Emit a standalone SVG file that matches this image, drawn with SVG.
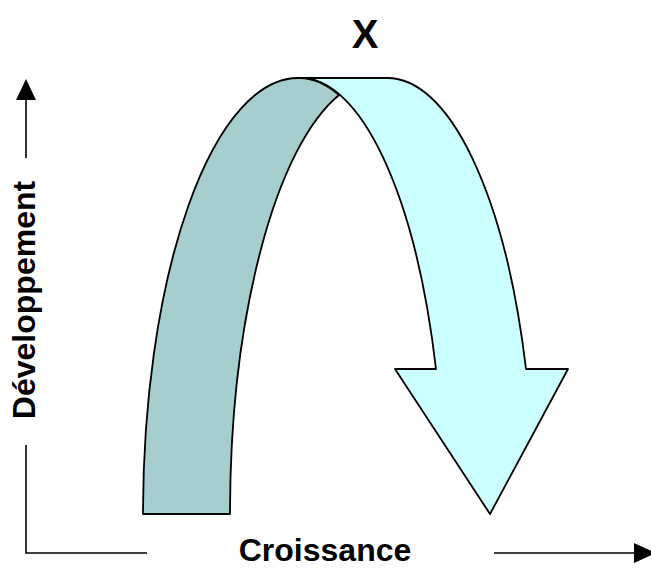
<svg xmlns="http://www.w3.org/2000/svg" width="651" height="568" viewBox="0 0 651 568">
<style>
.lbl{font-family:"Liberation Sans",Arial,sans-serif;font-weight:bold;fill:#000}
.ax{stroke:#000;stroke-width:1.6;fill:none}
.sh{stroke:#000;stroke-width:1.8;stroke-linejoin:round}
</style>
<rect width="651" height="568" fill="#fff"/>
<g id="connectors">
<line class="ax" x1="26" y1="100" x2="26" y2="158"/>
<polygon points="26,79 16,100 36,100" fill="#000"/>
<polyline class="ax" points="26,445 26,553 147,553"/>
<line class="ax" x1="494" y1="553" x2="636" y2="553"/>
<polygon points="634,543 656,553 634,563" fill="#000"/>
</g>
<g id="light-band">
<path class="sh" fill="#CCFFFF" d="M 298,78 L 387,78 A 147 436 0 0 1 526,369 L 568,369 L 490,514 L 395,369 L 436,369 A 144 436 0 0 0 300,78 Z"/>
</g>
<g id="dark-band">
<path class="sh" fill="#A6CECE" d="M 143,514 A 155 436 0 0 1 298,78 L 300,78 A 144 436 0 0 1 339,95 A 150 436 0 0 0 230,514 Z"/>
</g>
<g id="label-x"><text class="lbl" x="365" y="48" font-size="40" text-anchor="middle">X</text></g>
<g id="label-dev"><text class="lbl" font-size="32" text-anchor="middle" transform="translate(35,300) rotate(-90)">Développement</text></g>
<g id="label-croissance"><text class="lbl" x="325" y="561" font-size="32" text-anchor="middle">Croissance</text></g>
</svg>
